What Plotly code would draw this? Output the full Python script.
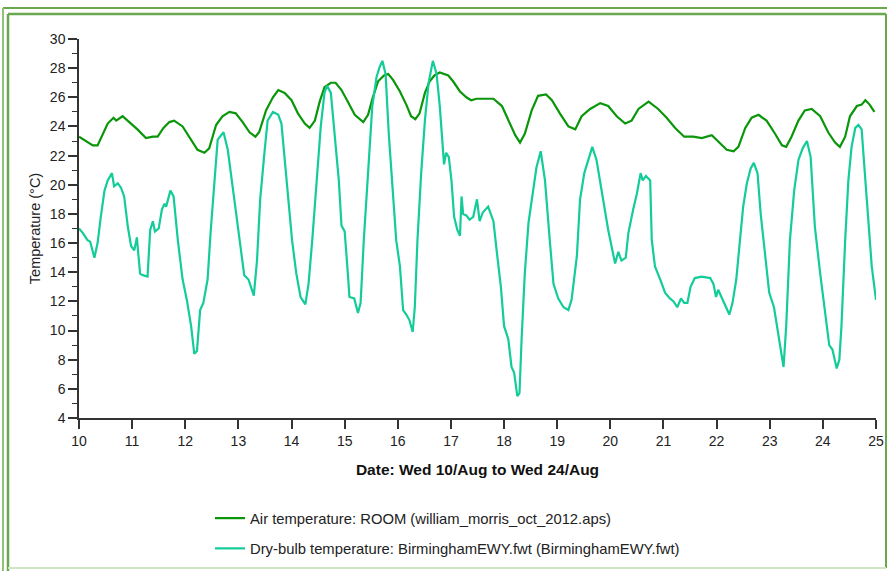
import plotly.graph_objects as go

# ---- data ----
room_days = [10.00, 10.13, 10.26, 10.35, 10.45, 10.54, 10.65, 10.70, 10.82, 10.95,
             11.10, 11.26, 11.39, 11.48, 11.59, 11.70, 11.79, 11.95, 12.11, 12.23,
             12.36, 12.45, 12.58, 12.70, 12.83, 12.95, 13.08, 13.21, 13.32, 13.39,
             13.52, 13.65, 13.75, 13.87, 14.00, 14.12, 14.25, 14.34, 14.44, 14.53,
             14.62, 14.74, 14.83, 14.94, 15.06, 15.19, 15.35, 15.44, 15.53, 15.63,
             15.74, 15.82, 15.91, 16.04, 16.16, 16.25, 16.33, 16.41, 16.51, 16.60,
             16.69, 16.79, 16.95, 17.04, 17.17, 17.29, 17.38, 17.48, 17.59, 17.80,
             17.96, 18.08, 18.21, 18.30, 18.39, 18.52, 18.64, 18.79, 18.90, 19.05,
             19.21, 19.34, 19.46, 19.62, 19.81, 19.96, 20.12, 20.28, 20.40, 20.53,
             20.72, 20.90, 21.06, 21.22, 21.39, 21.56, 21.72, 21.91, 22.06, 22.19,
             22.32, 22.41, 22.54, 22.66, 22.79, 22.94, 23.10, 23.23, 23.31, 23.41,
             23.54, 23.66, 23.79, 23.95, 24.10, 24.23, 24.32, 24.42, 24.51, 24.64,
             24.73, 24.80, 24.88, 24.97]
room_temp = [23.3, 23.0, 22.7, 22.7, 23.5, 24.2, 24.6, 24.4, 24.7, 24.3,
             23.8, 23.2, 23.3, 23.3, 23.9, 24.3, 24.4, 24.0, 23.1, 22.4,
             22.2, 22.5, 24.1, 24.7, 25.0, 24.9, 24.3, 23.6, 23.3, 23.6,
             25.1, 26.0, 26.5, 26.3, 25.8, 24.9, 24.2, 23.9, 24.4, 25.7,
             26.7, 27.0, 27.0, 26.5, 25.7, 24.8, 24.3, 24.8, 26.0, 27.1,
             27.5, 27.6, 27.2, 26.4, 25.5, 24.7, 24.5, 24.9, 26.3, 27.1,
             27.5, 27.7, 27.5, 27.1, 26.4, 26.0, 25.8, 25.9, 25.9, 25.9,
             25.4, 24.4, 23.4, 22.9, 23.5, 25.1, 26.1, 26.2, 25.8, 24.9,
             24.0, 23.8, 24.7, 25.2, 25.6, 25.4, 24.7, 24.2, 24.4, 25.2,
             25.7, 25.2, 24.6, 23.9, 23.3, 23.3, 23.2, 23.4, 22.9, 22.4,
             22.3, 22.6, 23.9, 24.6, 24.8, 24.4, 23.5, 22.7, 22.6, 23.3,
             24.4, 25.1, 25.2, 24.7, 23.6, 22.9, 22.6, 23.3, 24.7, 25.4,
             25.5, 25.8, 25.5, 25.0]

dry_days = [10.00, 10.07, 10.16, 10.21, 10.29, 10.35, 10.41, 10.48, 10.54, 10.62,
            10.66, 10.73, 10.79, 10.85, 10.92, 10.98, 11.04, 11.09, 11.11, 11.15,
            11.20, 11.29, 11.34, 11.39, 11.43, 11.50, 11.56, 11.61, 11.64, 11.67,
            11.72, 11.78, 11.86, 11.95, 12.03, 12.11, 12.17, 12.22, 12.28, 12.34,
            12.42, 12.48, 12.55, 12.61, 12.72, 12.80, 12.89, 13.02, 13.11, 13.19,
            13.29, 13.35, 13.41, 13.49, 13.55, 13.65, 13.75, 13.81, 13.87, 13.93,
            14.01, 14.09, 14.17, 14.26, 14.32, 14.39, 14.47, 14.55, 14.62, 14.67,
            14.74, 14.81, 14.89, 14.94, 15.00, 15.06, 15.09, 15.18, 15.22, 15.25,
            15.30, 15.36, 15.44, 15.52, 15.60, 15.66, 15.71, 15.77, 15.83, 15.91,
            15.97, 16.04, 16.10, 16.16, 16.22, 16.28, 16.32, 16.37, 16.44, 16.51,
            16.58, 16.66, 16.73, 16.79, 16.85, 16.87, 16.91, 16.96, 17.01, 17.06,
            17.12, 17.17, 17.20, 17.23, 17.29, 17.35, 17.42, 17.49, 17.54, 17.60,
            17.70, 17.80, 17.86, 17.94, 18.00, 18.08, 18.14, 18.19, 18.25, 18.29,
            18.33, 18.39, 18.46, 18.55, 18.61, 18.69, 18.77, 18.86, 18.93, 19.02,
            19.12, 19.21, 19.27, 19.37, 19.43, 19.51, 19.59, 19.66, 19.74, 19.82,
            19.90, 19.96, 20.05, 20.09, 20.15, 20.21, 20.29, 20.34, 20.43, 20.50,
            20.57, 20.61, 20.67, 20.75, 20.78, 20.84, 20.94, 21.03, 21.12, 21.19,
            21.26, 21.33, 21.39, 21.45, 21.51, 21.59, 21.72, 21.88, 21.94, 21.99,
            22.03, 22.10, 22.16, 22.24, 22.30, 22.37, 22.44, 22.50, 22.57, 22.64,
            22.70, 22.77, 22.83, 22.91, 22.99, 23.08, 23.16, 23.21, 23.26, 23.31,
            23.38, 23.46, 23.54, 23.62, 23.70, 23.77, 23.85, 23.95, 24.04, 24.12,
            24.18, 24.26, 24.31, 24.35, 24.42, 24.48, 24.54, 24.61, 24.67, 24.73,
            24.79, 24.85, 24.92, 25.00]
dry_temp = [17.0, 16.7, 16.2, 16.1, 15.0, 16.0, 17.8, 19.6, 20.3, 20.8,
            19.9, 20.1, 19.8, 19.2, 17.1, 15.8, 15.5, 16.4, 15.5, 13.9,
            13.8, 13.7, 16.9, 17.5, 16.8, 17.0, 18.3, 18.7, 18.5, 19.0,
            19.6, 19.2, 16.2, 13.5, 12.1, 10.3, 8.4, 8.6, 11.4, 11.9,
            13.5, 16.9, 20.3, 23.1, 23.6, 22.4, 19.9, 16.4, 13.8, 13.5,
            12.4, 14.8, 19.0, 22.2, 24.4, 25.0, 24.8, 24.2, 21.7, 19.2,
            16.2, 13.9, 12.3, 11.8, 13.2, 16.2, 20.3, 24.0, 26.3, 26.8,
            26.3, 23.3, 20.3, 17.2, 16.8, 13.9, 12.3, 12.2, 11.6, 11.2,
            11.9, 16.2, 20.8, 25.4, 27.4, 28.1, 28.5, 27.6, 23.5, 19.0,
            16.2, 14.4, 11.4, 11.1, 10.7, 9.9, 11.6, 16.2, 20.8, 24.4,
            27.0, 28.5, 27.6, 25.4, 22.2, 21.4, 22.2, 21.9, 20.3, 17.8,
            16.9, 16.5, 19.2, 18.0, 17.9, 17.6, 17.8, 19.0, 17.5, 18.1,
            18.5, 17.5, 15.5, 13.0, 10.3, 9.4, 7.5, 7.1, 5.5, 5.7,
            9.4, 13.9, 17.4, 19.6, 21.2, 22.3, 20.3, 16.2, 13.2, 12.2,
            11.6, 11.4, 12.1, 15.1, 19.0, 20.8, 21.7, 22.6, 21.7, 19.9,
            18.0, 16.9, 15.3, 14.6, 15.4, 14.8, 15.0, 16.7, 18.3, 19.4,
            20.8, 20.3, 20.6, 20.3, 16.2, 14.4, 13.5, 12.6, 12.2, 12.0,
            11.6, 12.2, 11.9, 11.9, 13.0, 13.6, 13.7, 13.6, 13.2, 12.3,
            12.8, 12.2, 11.8, 11.1, 11.9, 13.5, 16.2, 18.5, 20.1, 21.1,
            21.5, 20.8, 18.0, 15.3, 12.6, 11.6, 9.8, 8.9, 7.5, 10.3,
            16.2, 19.6, 21.7, 22.5, 23.0, 21.9, 17.1, 13.9, 11.2, 9.0,
            8.7, 7.4, 8.0, 10.3, 16.2, 20.3, 22.6, 23.9, 24.1, 23.8,
            20.8, 18.0, 14.4, 12.1]

x_ticks = list(range(10, 26))
y_ticks = list(range(4, 31, 2))

room_name = "Air temperature: ROOM (william_morris_oct_2012.aps)"
dry_name = "Dry-bulb temperature: BirminghamEWY.fwt (BirminghamEWY.fwt)"
x_title = "Date: Wed 10/Aug to Wed 24/Aug"
y_title = "Temperature (°C)"

# ---- layout geometry (pixels of the 887x571 page) ----
W, H = 887, 571
L, R, T, B = 79, 876, 39, 418
FONT = "Liberation Sans, Arial, sans-serif"
AXC = "#333333"


def px(xp):
    return (xp - L) / (R - L)


def py(yp):
    return (B - yp) / (B - T)


fig = go.Figure()
fig.add_trace(go.Scatter(x=room_days, y=room_temp, mode="lines", name=room_name,
                         line=dict(color="#0a960a", width=2.2), legendgroup="a"))
fig.add_trace(go.Scatter(x=dry_days, y=dry_temp, mode="lines", name=dry_name,
                         line=dict(color="#14cc99", width=2.2), legendgroup="b"))

frame = "#6aa84f"
shapes = [
    dict(x0=px(3), x1=px(W), y0=py(8), y1=py(8), color=frame, w=2),
    dict(x0=px(3), x1=px(3), y0=py(8), y1=py(H), color="#8fc274", w=2),
    dict(x0=px(8), x1=px(886), y0=py(14), y1=py(14), color=frame, w=2.5),
    dict(x0=px(8), x1=px(8), y0=py(14), y1=py(H), color=frame, w=2.5),
    dict(x0=px(886), x1=px(886), y0=py(14), y1=py(568), color=frame, w=2),
    dict(x0=px(8), x1=px(886), y0=py(568), y1=py(568), color="#cfe6c4", w=2),
]
for s in shapes:
    fig.add_shape(type="line", xref="paper", yref="paper",
                  x0=s["x0"], x1=s["x1"], y0=s["y0"], y1=s["y1"],
                  line=dict(color=s["color"], width=s["w"]), layer="above")

fig.update_layout(
    width=W, height=H,
    margin=dict(l=L, r=W - R, t=T, b=H - B, autoexpand=False),
    paper_bgcolor="white", plot_bgcolor="white",
    font=dict(family=FONT, size=14, color="#222222"),
    showlegend=True,
    legend=dict(x=px(210), y=py(502), xanchor="left", yanchor="top",
                orientation="v", tracegroupgap=8, bgcolor="rgba(0,0,0,0)",
                font=dict(family=FONT, size=14.8, color="#222222")),
    xaxis=dict(range=[10, 25], tickmode="array", tickvals=x_ticks,
               ticktext=[str(v) for v in x_ticks],
               showgrid=False, zeroline=False, showline=True,
               linecolor=AXC, linewidth=1.5, ticks="outside", ticklen=9,
               tickwidth=1.5, tickcolor=AXC,
               tickfont=dict(family=FONT, size=14, color="#222222"),
               title=dict(text="<b>" + x_title + "</b>", standoff=17,
                          font=dict(family=FONT, size=15.5, color="#111111"))),
    yaxis=dict(range=[4, 30], tickmode="array", tickvals=y_ticks,
               ticktext=[str(v) for v in y_ticks],
               showgrid=False, zeroline=False, showline=True,
               linecolor=AXC, linewidth=1.5, ticks="outside", ticklen=9,
               tickwidth=1.5, tickcolor=AXC,
               minor=dict(dtick=1, tick0=4, ticks="outside", ticklen=5,
                          tickcolor=AXC, tickwidth=1.2, showgrid=False),
               tickfont=dict(family=FONT, size=14, color="#222222"),
               title=dict(text=y_title, standoff=6,
                          font=dict(family=FONT, size=14.5, color="#222222"))),
)

# the page is exactly the figure's size: drop the browser's default body margin
fig.write_html("out.html",
               config={"displayModeBar": False},
               post_script="document.body.style.margin='0';"
                           "document.body.style.overflow='hidden';")
